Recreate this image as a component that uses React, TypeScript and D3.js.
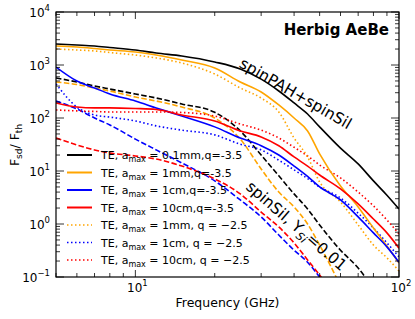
import React from "react";
import * as d3 from "d3";

// frequency grid (GHz)
const freqs = [5, 6, 7, 8, 10, 12, 15, 20, 25, 30, 35, 40, 45, 50, 60, 70, 80, 90, 100];

// F_sd / F_th
const spinPahSil = [2490, 2380, 2280, 2140, 1920, 1680, 1480, 1140, 840, 540, 323, 192, 119, 68, 27, 13.6, 6.5, 3.5, 1.92];
const te1mm = [2280, 2190, 2050, 1920, 1760, 1540, 1240, 877, 478, 310, 176, 100, 57, 21, 5.2, 2.1, 0.84, 0.385, 0.184];
const te1cm = [916, 499, 368, 284, 209, 155, 109, 68, 42, 30, 20, 12.4, 7.9, 5.0, 2.84, 1.36, 0.68, 0.37, 0.19];
const te10cm = [192, 161, 155, 155, 151, 145, 114, 88, 57, 44, 30, 18.4, 12.4, 8.4, 4.6, 2.4, 1.24, 0.68, 0.35];
const te1mmQ25 = [2000, 1920, 1840, 1720, 1540, 1360, 1090, 676, 368, 238, 130, 42, 18.4, 6.2, 2.6, 0.96, 0.4, 0.23, 0.13];
const te1cmQ25 = [439, 161, 114, 104, 88, 71, 59, 48, 32, 25, 16, 10.5, 7.2, 5.0, 3.1, 1.6, 0.84, 0.44, 0.24];
const te10cmQ25 = [142, 136, 133, 130, 130, 130, 127, 109, 77, 59, 42, 28, 19.2, 13, 7.4, 4.0, 2.2, 1.19, 0.65];
// spinSil, Y_Si = 0.01 (dashed)
const silBlack = [569, 478, 402, 352, 284, 238, 184, 128, 57, 20, 8.1, 3.7, 1.92, 0.96, 0.32, 0.148, 0.06];
const silOrange = [478, 428, 368, 323, 249, 209, 161, 100, 40, 10.9, 4.0, 2.1, 1.0, 0.4, 0.068];
const silRed = [42, 31, 25, 21.9, 19.2, 16.8, 12.4, 7.1, 3.7, 1.68, 0.88, 0.44, 0.21, 0.109, 0.03];
const silBlue = [209, 148, 100, 74, 40, 25, 14.2, 6.5, 2.84, 1.36, 0.62, 0.32, 0.19, 0.1, 0.03];

const legendSizes = ["0.1mm,q=-3.5", "1mm,q=-3.5", "1cm,q=-3.5", "10cm,q=-3.5", "1mm, q = \u22122.5", "1cm, q = \u22122.5", "10cm, q = \u22122.5"];

const BLACK = "#000000";
const ORANGE = "#ffa500";
const BLUE = "#0000ff";
const RED = "#ff0000";
const DASH = "5.5,2.4";
const DOT = "1.5,2.5";

const series = [
  { v: silBlue, c: BLUE, d: DASH },
  { v: silRed, c: RED, d: DASH },
  { v: silOrange, c: ORANGE, d: DASH },
  { v: silBlack, c: BLACK, d: DASH },
  { v: te1cmQ25, c: BLUE, d: DOT },
  { v: te10cmQ25, c: RED, d: DOT },
  { v: te1mmQ25, c: ORANGE, d: DOT },
  { v: spinPahSil, c: BLACK, d: null },
  { v: te1mm, c: ORANGE, d: null },
  { v: te1cm, c: BLUE, d: null },
  { v: te10cm, c: RED, d: null },
];

const legend = [
  { c: BLACK, d: null },
  { c: ORANGE, d: null },
  { c: BLUE, d: null },
  { c: RED, d: null },
  { c: ORANGE, d: DOT },
  { c: BLUE, d: DOT },
  { c: RED, d: DOT },
];

const font = "DejaVu Sans, sans-serif";

export default function App() {
  const left = 56, right = 399, top = 12, bottom = 277;
  const x = d3.scaleLog().domain([5, 100]).range([left, right]);
  const y = d3.scaleLog().domain([0.1, 1e4]).range([bottom, top]);

  const line = d3.line<number>()
    .x((d, i) => x(freqs[i]))
    .y(d => y(d))
    .curve(d3.curveMonotoneX);

  const xMajor = [10, 100];
  const xMinor = [5, 6, 7, 8, 9, 20, 30, 40, 50, 60, 70, 80, 90];
  const yMajor = [0.1, 1, 10, 100, 1000, 10000];
  const yMinor: number[] = [];
  for (let e = -1; e < 4; e++) for (let k = 2; k < 10; k++) yMinor.push(k * Math.pow(10, e));

  const exp = (v: number) => {
    const e = Math.round(Math.log10(v));
    return e < 0 ? "\u2212" + (-e) : "" + e;
  };

  return (
    <svg width={415} height={319} style={{ position: "absolute", left: 0, top: 0, background: "#fff" }} fontFamily={font}>
      <defs>
        <clipPath id="plot">
          <rect x={left} y={top} width={right - left} height={bottom - top} />
        </clipPath>
      </defs>

      <g clipPath="url(#plot)" fill="none">
        {series.map((s, i) => (
          <path key={i} d={line(s.v) || ""} stroke={s.c} strokeWidth={1.6} strokeDasharray={s.d || undefined} />
        ))}
      </g>

      {/* ticks, inward on all four sides */}
      <g stroke="#000" strokeWidth={0.8}>
        {xMajor.map(t => (
          <g key={"xM" + t}>
            <line x1={x(t)} x2={x(t)} y1={bottom} y2={bottom - 7} />
            <line x1={x(t)} x2={x(t)} y1={top} y2={top + 7} />
          </g>
        ))}
        {xMinor.map(t => (
          <g key={"xm" + t}>
            <line x1={x(t)} x2={x(t)} y1={bottom} y2={bottom - 4} />
            <line x1={x(t)} x2={x(t)} y1={top} y2={top + 4} />
          </g>
        ))}
        {yMajor.map(t => (
          <g key={"yM" + t}>
            <line x1={left} x2={left + 8} y1={y(t)} y2={y(t)} />
            <line x1={right} x2={right - 8} y1={y(t)} y2={y(t)} />
          </g>
        ))}
        {yMinor.map(t => (
          <g key={"ym" + t}>
            <line x1={left} x2={left + 4} y1={y(t)} y2={y(t)} />
            <line x1={right} x2={right - 4} y1={y(t)} y2={y(t)} />
          </g>
        ))}
      </g>
      <rect x={left} y={top} width={right - left} height={bottom - top} fill="none" stroke="#000" strokeWidth={1.2} />

      {/* tick labels */}
      <g fontSize={12} fill="#000">
        {yMajor.map(t => (
          <text key={"yl" + t} x={left - 6} y={y(t) + 5} textAnchor="end">
            10<tspan fontSize={8.5} dy={-6}>{exp(t)}</tspan>
          </text>
        ))}
        {xMajor.map(t => (
          <text key={"xl" + t} x={x(t) + 2} y={bottom + 15} textAnchor="middle">
            10<tspan fontSize={8.5} dy={-6}>{exp(t)}</tspan>
          </text>
        ))}
      </g>

      <text x={(left + right) / 2} y={307} textAnchor="middle" fontSize={12.5}>Frequency (GHz)</text>
      <text transform="translate(19,145) rotate(-90)" textAnchor="middle" fontSize={12.5}>
        F<tspan fontSize={9} dy={3}>sd</tspan><tspan dy={-3}>/ F</tspan><tspan fontSize={9} dy={3}>th</tspan>
      </text>

      <text x={389} y={35} textAnchor="end" fontSize={15} fontWeight="bold">Herbig AeBe</text>

      <text transform="translate(293,98) rotate(30)" textAnchor="middle" fontSize={15.5}>spinPAH+spinSil</text>
      <text transform="translate(293,230) rotate(41)" textAnchor="middle" fontSize={15.5}>
        spinSil, Y<tspan fontSize={11} fontStyle="italic" dy={4}>Si</tspan><tspan dy={-4}>=0.01</tspan>
      </text>

      {/* legend */}
      <g fontSize={11}>
        {legend.map((l, i) => {
          const ly = 155 + i * 17.5;
          return (
            <g key={"lg" + i}>
              <line x1={67} x2={92} y1={ly} y2={ly} stroke={l.c} strokeWidth={l.d ? 1.6 : 2} strokeDasharray={l.d || undefined} />
              <text x={101} y={ly + 4}>
                TE, a<tspan fontSize={8} dy={3}>max</tspan><tspan dy={-3}> = {legendSizes[i]}</tspan>
              </text>
            </g>
          );
        })}
      </g>
    </svg>
  );
}
